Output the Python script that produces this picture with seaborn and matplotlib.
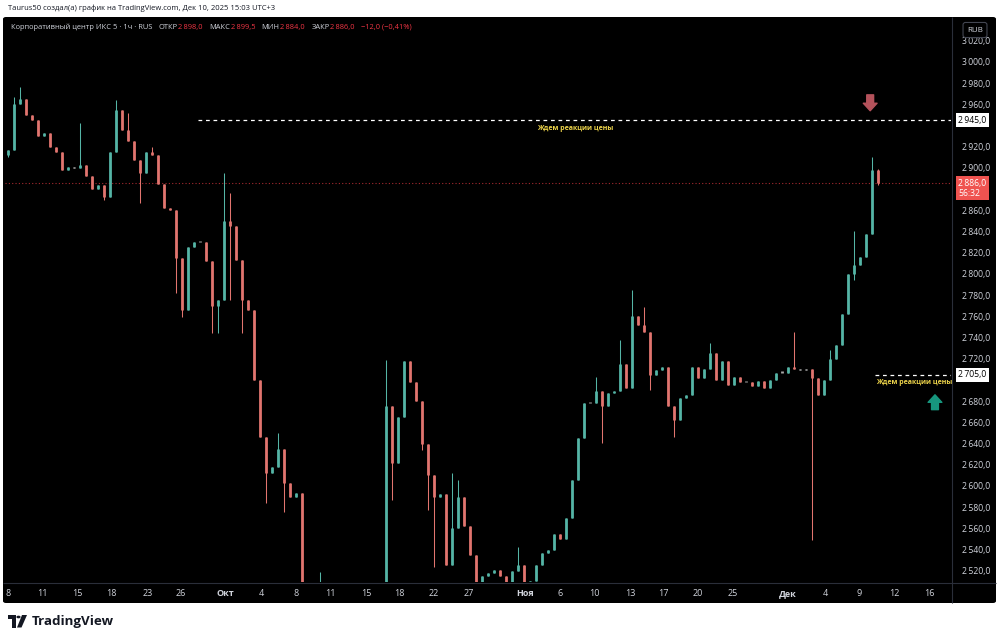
import numpy as np
import pandas as pd
import matplotlib
matplotlib.use("Agg")
import matplotlib.pyplot as plt
import matplotlib.transforms as mtransforms
from matplotlib.patches import FancyBboxPatch, Polygon, Circle
from matplotlib.lines import Line2D
from matplotlib.offsetbox import TextArea, HPacker, AnchoredOffsetbox
import seaborn as sns
import seaborn.objects as so

# ---------------- data ----------------
close = [2917, 2960, 2965, 2950, 2945, 2930, 2933, 2920, 2915, 2898,
         2901, 2900, 2903, 2892, 2880, 2884, 2873, 2915, 2955, 2936,
         2925, 2908, 2895, 2915, 2912, 2885, 2862, 2860, 2815, 2766,
         2825, 2830, 2830, 2812, 2770, 2775, 2850, 2845, 2813, 2775,
         2766, 2700, 2646, 2612, 2618, 2635, 2603, 2590, 2593, 2500,
         2490, 2495, 2505, 2495, 2490, 2485, 2480, 2485, 2490, 2488,
         2492, 2495, 2500, 2675, 2622, 2665, 2718, 2698, 2680, 2640,
         2610, 2590, 2592, 2525, 2560, 2590, 2562, 2535, 2500, 2515,
         2518, 2521, 2515, 2505, 2520, 2525, 2505, 2510, 2525, 2537,
         2540, 2555, 2550, 2570, 2606, 2645, 2678, 2678, 2690, 2675,
         2688, 2690, 2715, 2692, 2760, 2752, 2745, 2705, 2709, 2712,
         2675, 2662, 2683, 2686, 2712, 2702, 2710, 2725, 2700, 2718,
         2695, 2703, 2698, 2698, 2694, 2699, 2692, 2700, 2707, 2707,
         2712, 2710, 2709, 2710, 2702, 2686, 2700, 2720, 2733, 2762,
         2800, 2808, 2816, 2838, 2898, 2886]
first_open = 2912.0
spike_high = {1: 2967, 2: 2976, 12: 2942, 18: 2964, 20: 2952, 24: 2920,
              36: 2895, 37: 2876, 45: 2650, 52: 2519, 63: 2719, 74: 2612,
              75: 2606, 85: 2542, 98: 2703, 102: 2738, 104: 2785, 106: 2769,
              117: 2735, 131: 2745, 137: 2728, 141: 2841, 144: 2910, 145: 2899.5}
spike_low = {0: 2910, 16: 2870, 22: 2867, 28: 2782, 29: 2759, 34: 2744,
             35: 2744, 37: 2775, 39: 2744, 43: 2584, 46: 2575, 64: 2587,
             69: 2634, 70: 2577, 71: 2524, 99: 2641, 107: 2691, 111: 2646,
             134: 2549, 141: 2794, 145: 2884}

tick_pos = [0, 5.7, 11.5, 17.3, 23.2, 28.7, 36.3, 42.2, 48, 53.7, 59.7, 65.3,
            71, 76.7, 86.2, 92, 97.8, 103.7, 109.3, 115, 120.8, 130, 136.2,
            141.8, 147.7, 153.5]
tick_labels = ["8", "11", "15", "18", "23", "26", "Окт", "4", "8", "11", "15",
               "18", "22", "27", "Ноя", "6", "10", "13", "17", "20", "25",
               "Дек", "4", "9", "12", "16"]
month_labels = {"Окт", "Ноя", "Дек"}
price_ticks = [2520, 2540, 2560, 2580, 2600, 2620, 2640, 2660, 2680, 2720,
               2740, 2760, 2780, 2800, 2820, 2840, 2860, 2900, 2920, 2960,
               2980, 3000, 3020]
level_sell = 2945.0
level_buy = 2705.0
last_price = 2886.0
note_text = "Ждем реакции цены"

# ---------------- candles table ----------------
opens = [first_open] + close[:-1]
rows = []
for i, (o, c) in enumerate(zip(opens, close)):
    hi = max(o, c, spike_high.get(i, -np.inf))
    lo = min(o, c, spike_low.get(i, np.inf))
    blo, bhi = min(o, c), max(o, c)
    if bhi - blo < 1.0:
        bhi = blo + 1.0
    d = "up" if c > o + 1 else ("down" if c < o - 1 else "flat")
    rows.append(dict(idx=i, open=o, close=c, high=hi, low=lo,
                     body_lo=blo, body_hi=bhi, dir=d))
df = pd.DataFrame(rows)

UP, DOWN, FLAT = "#55b5a6", "#e2756f", "#a9a9a9"
GRAY_TXT = "#d1d4dc"
RED_TXT = "#f23645"

sns.set_theme(style="dark")
plt.rcParams["font.family"] = ["Open Sans", "DejaVu Sans"]
plt.rcParams["lines.solid_capstyle"] = "butt"

W, H = 1000, 641
def fx(px):
    return px / W
def fy(py):
    return 1 - py / H

fig = plt.figure(figsize=(10, 6.41), dpi=100, facecolor="white")

panel = FancyBboxPatch((fx(3), fy(603)), fx(996) - fx(3), fy(17) - fy(603),
                       boxstyle="round,pad=0,rounding_size=0.003",
                       transform=fig.transFigure, fc="black", ec="none", zorder=-5)
fig.add_artist(panel)

ax = fig.add_axes([fx(5), fy(582), fx(951) - fx(5), fy(18) - fy(582)])

(
    so.Plot(df, x="idx", color="dir")
    .add(so.Range(linewidth=0.75), ymin="low", ymax="high", legend=False)
    .add(so.Range(linewidth=2.0), ymin="body_lo", ymax="body_hi", legend=False)
    .scale(color=so.Nominal({"up": UP, "down": DOWN, "flat": FLAT}))
    .on(ax)
    .plot()
)

ax.set_facecolor("black")
ax.patch.set_alpha(0)
ax.grid(False)
for s in ax.spines.values():
    s.set_visible(False)
ax.set_xlabel("")
ax.set_ylabel("")
ax.set_xlim(-0.5, 157.17)
ax.set_ylim(2509.4, 3041.5)

ax.set_xticks(tick_pos)
ax.set_xticklabels(tick_labels)
for lab in ax.get_xticklabels():
    lab.set_color(GRAY_TXT)
    lab.set_fontsize(6.5)
    if lab.get_text() in month_labels:
        lab.set_fontweight("bold")
ax.tick_params(axis="x", length=0, pad=5)

ax.yaxis.tick_right()
ax.set_yticks(price_ticks)
ax.set_yticklabels([f"{v // 1000}\u2009{v % 1000:03d},0" for v in price_ticks])
ax.tick_params(axis="y", length=0, pad=8, labelsize=6.2, labelcolor=GRAY_TXT)

# current price line
ax.axhline(last_price, color="#a52a30", lw=0.8, ls=(0, (1, 2)), zorder=1)
# level lines
ax.hlines(level_sell, 31.7, 157.17, colors="white", linestyles=(0, (3, 3)), lw=0.9)
ax.hlines(level_buy, 144.5, 157.17, colors="white", linestyles=(0, (3, 3)), lw=0.9)
ax.text(94.5, 2937.5, note_text, color="#ecd34a", fontsize=5.0, fontweight="bold",
        ha="center", va="center")
ax.text(151.0, 2698.0, note_text, color="#ecd34a", fontsize=5.0, fontweight="bold",
        ha="center", va="center")

# arrows
ax.annotate("", xy=(143.7, 2954), xytext=(143.7, 2969),
            arrowprops=dict(arrowstyle="simple,head_length=0.6,head_width=1.1,tail_width=0.55",
                            color="#b4525b", shrinkA=0, shrinkB=0, mutation_scale=9))
ax.annotate("", xy=(154.5, 2686), xytext=(154.5, 2672),
            arrowprops=dict(arrowstyle="simple,head_length=0.6,head_width=1.1,tail_width=0.55",
                            color="#17967e", shrinkA=0, shrinkB=0, mutation_scale=9))

# price-axis boxes
bt = mtransforms.blended_transform_factory(ax.transAxes, ax.transData)
ax.text(1.0075, level_sell, "2\u2009945,0", transform=bt, fontsize=6.2, color="black",
        ha="left", va="center", clip_on=False,
        bbox=dict(boxstyle="square,pad=0.3", fc="white", ec="none"))
ax.text(1.0075, level_buy, "2\u2009705,0", transform=bt, fontsize=6.2, color="black",
        ha="left", va="center", clip_on=False,
        bbox=dict(boxstyle="square,pad=0.3", fc="white", ec="none"))
ax.text(1.0075, last_price - 5, "2\u2009886,0\n56:32", transform=bt, fontsize=6.2,
        color="white", ha="left", va="center", clip_on=False, linespacing=1.15,
        bbox=dict(boxstyle="square,pad=0.3", fc="#ef5350", ec="none"))

# separators
fig.add_artist(Line2D([fx(952), fx(952)], [fy(17), fy(603)], color="#2a2e39", lw=0.8,
                      transform=fig.transFigure))
fig.add_artist(Line2D([fx(3), fx(996)], [fy(582.5), fy(582.5)], color="#2a2e39", lw=0.8,
                      transform=fig.transFigure))

# RUB box
fig.text(fx(975), fy(30), "RUB", fontsize=5.8, color=GRAY_TXT, ha="center", va="center",
         bbox=dict(boxstyle="round,pad=0.5,rounding_size=0.3", fc="black", ec="#434651", lw=0.8))

# header
fig.text(fx(8), fy(8.5), "Taurus50 создал(а) график на TradingView.com, Дек 10, 2025 15:03 UTC+3",
         fontsize=5.5, color="#131722", ha="left", va="center")

# legend line
def ta(s, c):
    return TextArea(s, textprops=dict(color=c, fontsize=5.4))
groups = [HPacker(children=[ta("Корпоративный центр ИКС 5 · 1ч · RUS", GRAY_TXT)], sep=0, pad=0)]
for lbl, val in [("ОТКР", "2\u2009898,0"), ("МАКС", "2\u2009899,5"),
                 ("МИН", "2\u2009884,0"), ("ЗАКР", "2\u2009886,0")]:
    groups.append(HPacker(children=[ta(lbl, GRAY_TXT), ta(val, RED_TXT)], sep=0.5, pad=0))
groups.append(HPacker(children=[ta("\u221212,0 (\u22120,41%)", RED_TXT)], sep=0, pad=0))
legend_box = HPacker(children=groups, sep=4.5, pad=0, align="baseline")
anch = AnchoredOffsetbox(loc="center left", child=legend_box, pad=0, borderpad=0,
                         frameon=False, bbox_to_anchor=(fx(11), fy(27)),
                         bbox_transform=fig.transFigure)
fig.add_artist(anch)

# TradingView logo
tvc = "#131722"
fig.add_artist(Polygon([(fx(8), fy(615)), (fx(16), fy(615)), (fx(16), fy(627.5)),
                        (fx(12), fy(627.5)), (fx(12), fy(619)), (fx(8), fy(619))],
                       closed=True, transform=fig.transFigure, fc=tvc, ec="none"))
fig.add_artist(Circle((fx(18.5), fy(617)), 0.0021, transform=fig.transFigure, fc=tvc, ec="none"))
fig.add_artist(Polygon([(fx(22), fy(615)), (fx(27), fy(615)), (fx(21.5), fy(627.5)),
                        (fx(17), fy(627.5))],
                       closed=True, transform=fig.transFigure, fc=tvc, ec="none"))
fig.text(fx(32), fy(621.5), "TradingView", fontsize=9.6, fontweight="bold", color=tvc,
         ha="left", va="center")

fig.savefig("out.png", dpi=100, facecolor="white")
